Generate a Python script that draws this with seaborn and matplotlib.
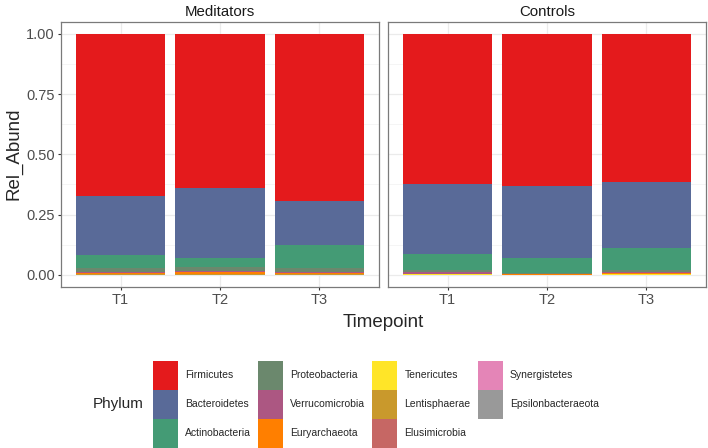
import pandas as pd
import matplotlib.pyplot as plt
import seaborn as sns
from matplotlib.patches import Patch
from matplotlib.ticker import MultipleLocator

# Phyla in legend / stacking order (first = top of the stack)
phyla = ['Firmicutes', 'Bacteroidetes', 'Actinobacteria', 'Proteobacteria',
         'Verrucomicrobia', 'Euryarchaeota', 'Tenericutes', 'Lentisphaerae',
         'Elusimicrobia', 'Synergistetes', 'Epsilonbacteraeota']
phylum_colors = ['#E41A1C', '#596A98', '#449B75', '#6B886D', '#AC5782', '#FF7F00',
                 '#FFE528', '#C9992C', '#C66764', '#E485B7', '#999999']

timepoints = ['T1', 'T2', 'T3']
groups = ['Meditators', 'Controls']

# relative abundances, one list per timepoint
meditators_t1 = [0.672, 0.246, 0.055, 0.014, 0.003, 0.006, 0.002, 0.001, 0.0005, 0.0003, 0.0002]
meditators_t2 = [0.638, 0.290, 0.039, 0.018, 0.004, 0.007, 0.002, 0.001, 0.0005, 0.0003, 0.0002]
meditators_t3 = [0.694, 0.183, 0.093, 0.018, 0.002, 0.007, 0.001, 0.001, 0.0005, 0.0003, 0.0002]
controls_t1 = [0.622, 0.293, 0.066, 0.008, 0.007, 0.002, 0.001, 0.0005, 0.0003, 0.0001, 0.0001]
controls_t2 = [0.631, 0.299, 0.060, 0.005, 0.001, 0.003, 0.0005, 0.0003, 0.0001, 0.0001, 0.0001]
controls_t3 = [0.616, 0.273, 0.092, 0.008, 0.002, 0.007, 0.001, 0.0005, 0.0003, 0.0001, 0.0001]

group_series = {
    'Meditators': [meditators_t1, meditators_t2, meditators_t3],
    'Controls': [controls_t1, controls_t2, controls_t3],
}

# long table
rows = []
for grp in groups:
    for tp, vals in zip(timepoints, group_series[grp]):
        for ph, v in zip(phyla, vals):
            rows.append((grp, tp, ph, v))
df = pd.DataFrame(rows, columns=['Group', 'Timepoint', 'Phylum', 'Rel_Abund'])
df['Timepoint'] = pd.Categorical(df['Timepoint'], categories=timepoints, ordered=True)

sns.set_style('white')
plt.rcParams['font.family'] = ['Liberation Sans', 'DejaVu Sans']

fig = plt.figure(figsize=(7.08, 4.48), dpi=100)
W, H = 708, 448
panel_bottom = 1 - 287 / H
panel_height = 265.3 / H
ax_left = fig.add_axes([61 / W, panel_bottom, 318 / W, panel_height])
ax_right = fig.add_axes([388 / W, panel_bottom, 318 / W, panel_height], sharey=ax_left)

palette = dict(zip(phyla, phylum_colors))

for ax, grp in zip([ax_left, ax_right], groups):
    sub = df[df['Group'] == grp]
    sns.histplot(data=sub, x='Timepoint', weights='Rel_Abund', hue='Phylum',
                 hue_order=phyla, palette=palette, multiple='stack',
                 discrete=True, shrink=0.9, linewidth=0, alpha=1,
                 legend=False, ax=ax)
    ax.set_xlim(-0.6, 2.6)
    ax.set_ylim(-0.05, 1.05)
    ax.set_yticks([0, 0.25, 0.5, 0.75, 1.0])
    ax.yaxis.set_minor_locator(MultipleLocator(0.125))
    ax.set_axisbelow(True)
    ax.grid(which='major', color='#EBEBEB', lw=0.9)
    ax.grid(which='minor', axis='y', color='#F2F2F2', lw=0.5)
    ax.set_xlabel('')
    ax.set_ylabel('')
    for s in ax.spines.values():
        s.set_color('#7a7a7a')
        s.set_linewidth(0.9)
    ax.tick_params(axis='both', which='major', length=2.5, width=0.8, color='#333333',
                   labelsize=10.5, labelcolor='#4D4D4D', pad=2, bottom=True, left=True)
    ax.tick_params(which='minor', length=0)
    ax.set_title(grp, fontsize=10.8, color='#1A1A1A', pad=4)

ax_left.set_yticklabels(['0.00', '0.25', '0.50', '0.75', '1.00'])
ax_right.tick_params(axis='y', left=False, labelleft=False)

fig.text((61 + 706) / 2 / W, 1 - 322 / H, 'Timepoint', ha='center', va='center', fontsize=13.5)
fig.text(14 / W, 1 - 154 / H, 'Rel_Abund', ha='center', va='center', rotation=90, fontsize=13.5)

# legend below the panels
handles = [Patch(facecolor=c, edgecolor='none', label=p) for p, c in zip(phyla, phylum_colors)]
fig.legend(handles=handles, loc='upper left', bbox_to_anchor=(153 / W, 1 - 361 / H),
           ncol=4, frameon=False, fontsize=7.5, borderpad=0, borderaxespad=0,
           handlelength=2.4, handleheight=3.9, labelspacing=0,
           handletextpad=0.7, columnspacing=0.66)
fig.text(93 / W, 1 - 404 / H, 'Phylum', ha='left', va='center', fontsize=11)

fig.savefig('out.png', dpi=100)
